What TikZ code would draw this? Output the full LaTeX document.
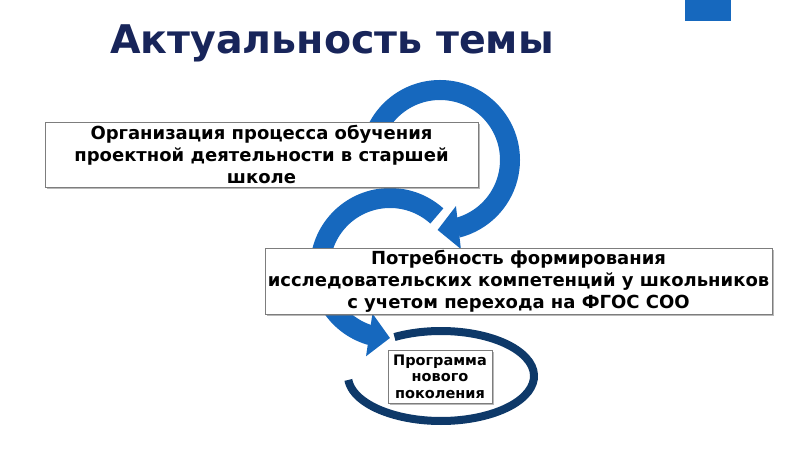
\documentclass[tikz,border=0pt]{standalone}
\usepackage{fontspec}
\setmainfont{DejaVu Sans}
\usepackage{tikz}
\usetikzlibrary{arrows.meta, bending, shadows}
\definecolor{titlenavy}{RGB}{24, 37, 90}
\definecolor{arcblue}{RGB}{22, 104, 190}
\definecolor{ringnavy}{RGB}{14, 57, 105}
\definecolor{boxgray}{RGB}{125, 125, 125}

\begin{document}
\begin{tikzpicture}[x=1pt, y=1pt,
  topicbox/.style={draw=boxgray, fill=white, align=center, inner sep=1pt,
    font=\bfseries\fontsize{18}{22}\selectfont,
    drop shadow={shadow xshift=2pt, shadow yshift=-2pt, opacity=0.5, fill=black!55}},
  bluearc/.style={draw=arcblue, line width=20pt, -{Triangle[length=21pt, width=42pt, flex]}}]
\useasboundingbox (0,0) rectangle (800,450);
\fill[arcblue] (685,429) rectangle (731,450);
\node[font=\bfseries\fontsize{39.5}{46}\selectfont, text=titlenavy] (title) at (332,407) {Актуальность темы};

% arrows and ring behind the boxes
\coordinate (c1) at (440,290);
\coordinate (c2) at (390,182);
\coordinate (c3) at (441,74);
\draw[bluearc] ([shift={(48:70pt)}]c2) arc[start angle=48, end angle=270, radius=70pt];
\draw[bluearc] ([shift={(180:70pt)}]c1) arc[start angle=180, end angle=-92, radius=70pt];
\draw[ringnavy, line width=8pt] ([shift={(120:93pt and 45pt)}]c3)
  arc[start angle=120, end angle=-175, x radius=93pt, y radius=45pt];

\node[topicbox, minimum width=433pt, minimum height=65pt] (org) at (261.5,295.5) {%
  Организация процесса обучения\\
  проектной деятельности в старшей\\
  школе};
\node[topicbox, minimum width=507pt, minimum height=66pt] (need) at (518.5,169) {%
  Потребность формирования\\
  исследовательских компетенций у школьников\\
  с учетом перехода на ФГОС СОО};
\node[topicbox, font=\bfseries\fontsize{14.5}{16.5}\selectfont, minimum width=104pt, minimum height=53pt] (prog) at (440,73.5) {%
  Программа\\
  нового\\
  поколения};
\end{tikzpicture}
\end{document}
